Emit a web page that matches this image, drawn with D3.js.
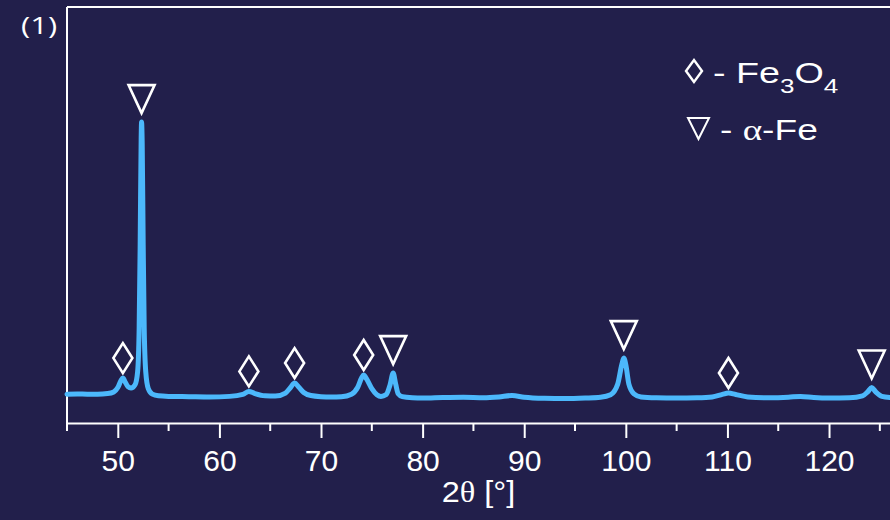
<!DOCTYPE html>
<html>
<head>
<meta charset="utf-8">
<script src="https://cdn.jsdelivr.net/npm/d3@7"></script>
<style>
  html, body { margin: 0; padding: 0; background: #221f4b; }
  #chart { width: 890px; height: 520px; }
</style>
</head>
<body>
<div id="chart"></div>
<script>
// XRD pattern (2theta in degrees, intensity in arbitrary counts)
const twoTheta = [
  45, 46, 47, 48, 49, 49.6, 50, 50.3, 50.5, 50.75, 51, 51.3, 51.7, 51.95, 52.1, 52.2, 52.3, 52.34,
  52.4, 52.5, 52.6, 52.75, 53, 53.4, 54, 55, 57, 59, 61, 62.3, 62.9, 63.5, 64.5, 65.5, 66.5, 67,
  67.4, 67.8, 68.3, 69, 70, 71, 72, 73, 73.6, 74, 74.2, 74.5, 75, 75.5, 75.9, 76.4, 76.8, 77.1,
  77.35, 77.6, 78, 79, 80, 82, 84, 86, 87.5, 88.8, 90, 92, 94, 96, 97.5, 98.5, 99.2, 99.6, 99.8,
  100, 100.3, 100.8, 101.5, 103, 105, 107, 108.5, 109.5, 110.1, 110.8, 112, 114, 116, 117.2,
  118.5, 120, 122, 123.3, 123.8, 124.2, 124.6, 125.2, 126
];
const intensity = [
  104, 105, 104, 104, 106, 112, 128, 152, 162, 146, 131, 126, 138, 185, 340, 640, 1030, 1085,
  1010, 640, 340, 185, 124, 104, 98, 96, 95, 94, 96, 103, 114, 106, 98, 97, 108, 128,
  144, 130, 110, 99, 95, 94, 95, 104, 128, 163, 173, 158, 124, 102, 96, 102, 138, 180,
  140, 105, 95, 91, 90, 92, 93, 91, 94, 99, 93, 89, 88, 90, 93, 102, 140, 210, 234,
  210, 140, 105, 94, 91, 90, 91, 94, 103, 108, 103, 94, 91, 93, 96,
  92, 90, 91, 98, 112, 128, 112, 96, 92
];

// peak markers: position and the peak height they sit on
const fe3o4Peaks = [50.5, 62.9, 67.4, 74.2, 110.1];
const fe3o4Heights = [162, 114, 144, 173, 108];
const alphaFePeaks = [52.34, 77.1, 99.8, 124.2];
const alphaFeHeights = [1085, 180, 234, 128];

const xTicks = [50, 60, 70, 80, 90, 100, 110, 120];
const xMinorTicks = [45, 55, 65, 75, 85, 95, 105, 115, 125];

const W = 890, H = 520;
const bg = '#221f4b';
const lineColor = '#4cb8fb';
const ink = '#ffffff';

const svg = d3.select('#chart').append('svg')
  .attr('width', W).attr('height', H)
  .style('display', 'block');

svg.append('rect').attr('width', W).attr('height', H).attr('fill', bg);

const plotL = 67, plotR = 890, plotT = 7, plotB = 423;
const x = d3.scaleLinear().domain([45, 126]).range([plotL, plotR]);
const y = d3.scaleLinear().domain([0, 1500]).range([plotB, plotT]);

// frame: top and left lines
svg.append('line')
  .attr('x1', plotL).attr('x2', W).attr('y1', plotT).attr('y2', plotT)
  .attr('stroke', ink).attr('stroke-width', 2);
svg.append('line')
  .attr('x1', plotL).attr('x2', plotL).attr('y1', plotT).attr('y2', plotB)
  .attr('stroke', ink).attr('stroke-width', 2);

// bottom axis with major + minor ticks
const axisG = svg.append('g').attr('transform', `translate(0,${plotB})`);
axisG.call(d3.axisBottom(x).tickValues(xTicks).tickSize(15).tickSizeOuter(0).tickPadding(12))
  .call((a) => a.select('.domain').attr('stroke', ink).attr('stroke-width', 2))
  .call((a) => a.selectAll('line').attr('stroke', ink).attr('stroke-width', 2))
  .call((a) => a.selectAll('text')
    .attr('fill', ink)
    .style('font-family', '"Liberation Sans", Arial, sans-serif')
    .style('font-size', '30px'));
axisG.selectAll('line.minor')
  .data(xMinorTicks)
  .join('line')
  .attr('class', 'minor')
  .attr('x1', (d) => x(d)).attr('x2', (d) => x(d))
  .attr('y1', 0).attr('y2', 8)
  .attr('stroke', ink).attr('stroke-width', 2);

// axis title
const title = svg.append('text')
  .attr('transform', `translate(${(plotL + plotR) / 2},502) scale(1.08,1)`)
  .attr('text-anchor', 'middle')
  .attr('fill', ink)
  .style('font-family', '"Liberation Sans", Arial, sans-serif')
  .style('font-size', '30px');
title.append('tspan').text('2');
title.append('tspan').style('font-family', '"Liberation Serif", serif').text('θ');
title.append('tspan').text(' [°]');

// panel label (stretched wide like the source)
svg.append('text')
  .attr('transform', 'translate(21,34) scale(1.35,1)')
  .attr('fill', ink)
  .style('font-family', '"Open Sans", sans-serif')
  .style('font-size', '23px')
  .text('(1)');

// diffraction curve
const pts = twoTheta.map((t, i) => [t, intensity[i]]);
svg.append('path')
  .datum(pts)
  .attr('fill', 'none')
  .attr('stroke', lineColor)
  .attr('stroke-width', 5)
  .attr('stroke-linejoin', 'round')
  .attr('stroke-linecap', 'round')
  .attr('d', d3.line().x((d) => x(d[0])).y((d) => y(d[1])).curve(d3.curveMonotoneX));

// marker shapes
function diamondPath(cx, by, w, h) {
  return `M${cx},${by} L${cx - w / 2},${by - h / 2} L${cx},${by - h} L${cx + w / 2},${by - h / 2} Z`;
}
function trianglePath(cx, by, w, h) {
  return `M${cx},${by} L${cx - w / 2},${by - h} L${cx + w / 2},${by - h} Z`;
}

svg.selectAll('path.fe3o4')
  .data(fe3o4Peaks)
  .join('path')
  .attr('class', 'fe3o4')
  .attr('d', (d, i) => diamondPath(x(d), y(fe3o4Heights[i]) - 5, 19, 30))
  .attr('fill', 'none')
  .attr('stroke', ink)
  .attr('stroke-width', 2.6);

svg.selectAll('path.alphafe')
  .data(alphaFePeaks)
  .join('path')
  .attr('class', 'alphafe')
  .attr('d', (d, i) => trianglePath(x(d), y(alphaFeHeights[i]) - 9, 26, 28))
  .attr('fill', 'none')
  .attr('stroke', ink)
  .attr('stroke-width', 2.6)
  .attr('stroke-linejoin', 'miter');

// legend
const legend = svg.append('g');
legend.append('path')
  .attr('d', diamondPath(694, 82, 16, 22))
  .attr('fill', 'none').attr('stroke', ink).attr('stroke-width', 2.4);
legend.append('path')
  .attr('d', trianglePath(698.5, 139, 21, 21))
  .attr('fill', 'none').attr('stroke', ink).attr('stroke-width', 2);

const l1 = legend.append('text')
  .attr('transform', 'translate(713,83) scale(1.3,1)')
  .attr('fill', ink)
  .style('font-family', '"Liberation Sans", Arial, sans-serif')
  .style('font-size', '29px');
l1.append('tspan').text('- Fe');
l1.append('tspan').attr('dy', 10).style('font-size', '20px').text('3');
l1.append('tspan').attr('dy', -10).text('O');
l1.append('tspan').attr('dy', 10).style('font-size', '20px').text('4');

const l2 = legend.append('text')
  .attr('transform', 'translate(720,140) scale(1.28,1)')
  .attr('fill', ink)
  .style('font-family', '"Liberation Sans", Arial, sans-serif')
  .style('font-size', '29px');
l2.append('tspan').text('- ');
l2.append('tspan').style('font-family', '"Liberation Serif", serif').text('α');
l2.append('tspan').text('-Fe');
</script>
</body>
</html>
